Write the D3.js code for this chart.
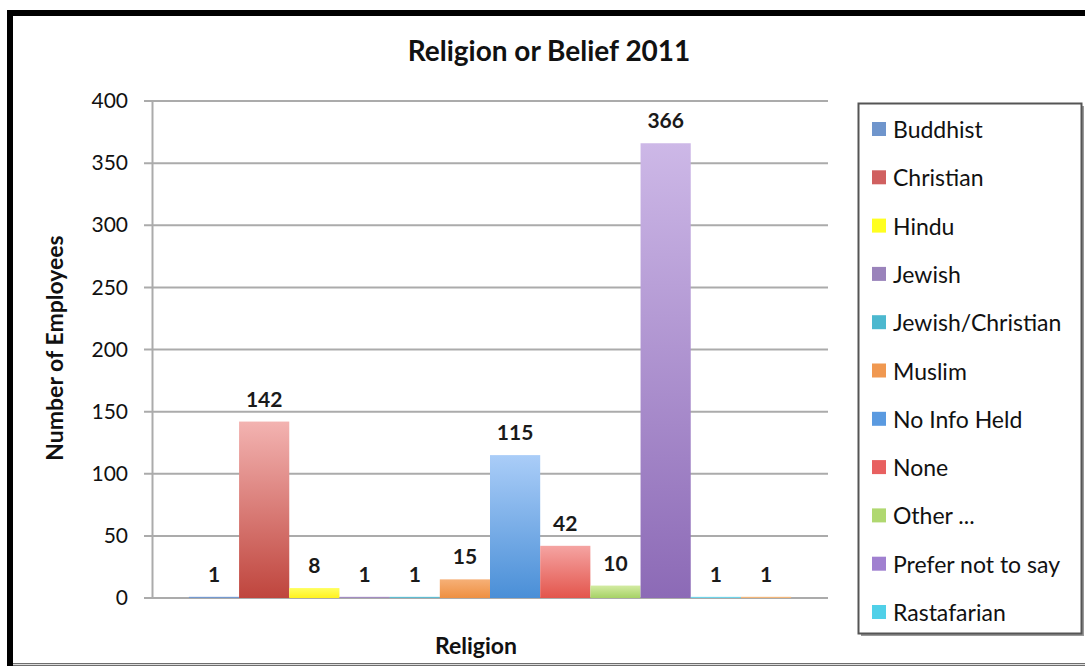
<!DOCTYPE html>
<html>
<head>
<meta charset="utf-8">
<script src="https://cdn.jsdelivr.net/npm/d3@7"></script>
<style>
	body { margin: 0; background: #fff; }
	svg { display: block; font-family: Lato, "Open Sans", sans-serif; }
</style>
</head>
<body>
<script>
(function () {
	"use strict";

	var religions = ['Buddhist', 'Christian', 'Hindu', 'Jewish', 'Jewish/Christian', 'Muslim',
		'No Info Held', 'None', 'Other ...', 'Prefer not to say', 'Rastafarian', 'Sikh'];
	var employees = [1, 142, 8, 1, 1, 15, 115, 42, 10, 366, 1, 1];
	var yTicks = [0, 50, 100, 150, 200, 250, 300, 350, 400];
	var legendShown = 11; // the last entry is clipped off in the original

	// [top, bottom, swatch]
	var palette = [
		['#9ab6e0', '#5b86c4', '#6f95cc'],
		['#f3b3b1', '#bf453d', '#d06060'],
		['#ffff60', '#fff21e', '#ffff20'],
		['#c1b1d8', '#8d74b1', '#9a83bb'],
		['#8fd6e4', '#3eaac4', '#4cb8cf'],
		['#f6b077', '#ee9042', '#f09850'],
		['#aacdf8', '#4a8fd7', '#5a9ae0'],
		['#f5a4a2', '#e3554c', '#e86060'],
		['#d3eba2', '#a6d266', '#b0d870'],
		['#cdb8e7', '#8c6ab6', '#a080d0'],
		['#a8e8f4', '#48c6e2', '#50d0e8'],
		['#f7c898', '#eeaa66', '#f0b070']
	];

	var WIDTH = 1085, HEIGHT = 666;
	var plot = { left: 152, top: 101, right: 828, bottom: 598 };

	var svg = d3.select('body').append('svg')
		.attr('width', WIDTH)
		.attr('height', HEIGHT);

	// outer frame
	svg.append('rect').attr('x', 7).attr('y', 10).attr('width', 1100).attr('height', 700).attr('fill', '#000');
	svg.append('rect').attr('x', 13).attr('y', 16).attr('width', 1100).attr('height', 647).attr('fill', '#fff');
	svg.append('line').attr('x1', 13).attr('x2', WIDTH).attr('y1', 664.5).attr('y2', 664.5)
		.attr('stroke', '#dcdcdc').attr('stroke-width', 2);

	var defs = svg.append('defs');
	palette.forEach(function (c, i) {
		var g = defs.append('linearGradient').attr('id', 'grad' + i)
			.attr('x1', 0).attr('y1', 0).attr('x2', 0).attr('y2', 1);
		g.append('stop').attr('offset', '0%').attr('stop-color', c[0]);
		g.append('stop').attr('offset', '100%').attr('stop-color', c[1]);
	});

	var x = d3.scaleBand()
		.domain(religions)
		.range([plot.left, plot.right])
		.paddingInner(0)
		.paddingOuter(0.735);

	var y = d3.scaleLinear()
		.domain([0, 400])
		.range([plot.bottom, plot.top]);

	// gridlines
	svg.append('g').selectAll('line')
		.data(yTicks)
		.enter().append('line')
		.attr('x1', plot.left - 8)
		.attr('x2', plot.right)
		.attr('y1', function (d) { return y(d); })
		.attr('y2', function (d) { return y(d); })
		.attr('stroke', '#ababab')
		.attr('stroke-width', 2);

	// y axis
	var yAxis = svg.append('g')
		.attr('transform', 'translate(' + plot.left + ',0)')
		.call(d3.axisLeft(y).tickValues(yTicks).tickSize(0).tickPadding(24));
	yAxis.select('.domain').attr('stroke', '#ababab').attr('stroke-width', 2);
	yAxis.selectAll('text')
		.attr('font-size', 21)
		.attr('font-family', 'Lato, "Open Sans", sans-serif')
		.attr('fill', '#111');

	// bars
	svg.append('g').selectAll('rect')
		.data(employees)
		.enter().append('rect')
		.attr('x', function (d, i) { return x(religions[i]); })
		.attr('width', x.bandwidth())
		.attr('y', function (d) { return y(d); })
		.attr('height', function (d) { return y(0) - y(d); })
		.attr('fill', function (d, i) { return 'url(#grad' + i + ')'; });

	// value labels
	svg.append('g').selectAll('text')
		.data(employees)
		.enter().append('text')
		.attr('x', function (d, i) { return x(religions[i]) + x.bandwidth() / 2; })
		.attr('y', function (d) { return y(d) - 15; })
		.attr('text-anchor', 'middle')
		.attr('font-size', 21)
		.attr('font-weight', 'bold')
		.attr('fill', '#1a1a1a')
		.text(function (d) { return d; });

	// titles
	svg.append('text')
		.attr('x', 549).attr('y', 61)
		.attr('text-anchor', 'middle')
		.attr('font-size', 28)
		.attr('font-weight', 'bold')
		.attr('fill', '#111')
		.text('Religion or Belief 2011');

	svg.append('text')
		.attr('transform', 'translate(63,' + 348 + ') rotate(-90)')
		.attr('text-anchor', 'middle')
		.attr('font-size', 23)
		.attr('font-weight', 'bold')
		.attr('fill', '#111')
		.text('Number of Employees');

	svg.append('text')
		.attr('x', 476).attr('y', 654)
		.attr('text-anchor', 'middle')
		.attr('font-size', 23)
		.attr('font-weight', 'bold')
		.attr('fill', '#111')
		.text('Religion');

	// legend
	var legend = svg.append('g');
	legend.append('rect')
		.attr('x', 861).attr('y', 106).attr('width', 223).attr('height', 530)
		.attr('fill', '#999');
	legend.append('rect')
		.attr('x', 858.5).attr('y', 103.5).attr('width', 223).attr('height', 530)
		.attr('fill', '#fff').attr('stroke', '#555').attr('stroke-width', 2);

	var items = legend.selectAll('.legend-item')
		.data(religions.slice(0, legendShown))
		.enter().append('g')
		.attr('class', 'legend-item')
		.attr('transform', function (d, i) { return 'translate(872,' + (130 + i * 48.3) + ')'; });

	items.append('rect')
		.attr('x', 0).attr('y', -8)
		.attr('width', 14).attr('height', 14)
		.attr('fill', function (d, i) { return palette[i][2]; });

	items.append('text')
		.attr('x', 21).attr('y', 8)
		.attr('font-size', 23)
		.attr('fill', '#111')
		.text(function (d) { return d; });
}());
</script>
</body>
</html>
